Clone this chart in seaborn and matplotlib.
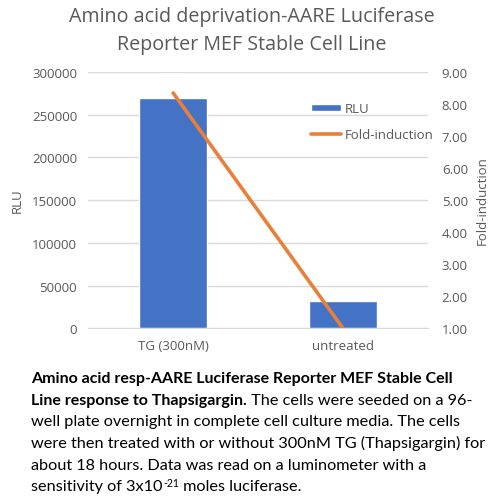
import numpy as np
import pandas as pd
import seaborn as sns
import matplotlib.pyplot as plt
from matplotlib.ticker import FormatStrFormatter

# =========================================
# DATA
# =========================================

categories = ['TG (300nM)', 'untreated']
rlu = [269500, 32000]
fold_induction = [8.34, 1.00]

y_left_ticks = [0, 50000, 100000, 150000, 200000, 250000, 300000]
y_right_ticks = [1, 2, 3, 4, 5, 6, 7, 8, 9]

title = "Amino acid deprivation-AARE Luciferase\nReporter MEF Stable Cell Line"

df = pd.DataFrame({'Condition': categories, 'RLU': rlu,
                   'Fold': fold_induction,
                   'pos': range(len(categories))})

# =========================================
# STYLE
# =========================================

sns.set_style('white')
plt.rcParams['font.family'] = ['Open Sans', 'DejaVu Sans']
grey = '#595959'
blue = '#4472c4'
orange = '#e8803a'

fig = plt.figure(figsize=(5.04, 5.02), dpi=100)
ax = fig.add_axes([0.175, 0.344, 0.674, 0.511])

# =========================================
# BARS (RLU)
# =========================================

sns.barplot(data=df, x='Condition', y='RLU', color=blue, width=0.4,
            saturation=1, ax=ax, label='RLU', zorder=2)

ax.set_ylim(0, 300000)
ax.set_xlim(-0.5, 1.5)
ax.set_yticks(y_left_ticks)
ax.yaxis.grid(True, color='#d9d9d9', linewidth=1, zorder=0)
ax.set_axisbelow(True)
ax.set_xlabel('')
ax.set_ylabel('RLU', color=grey, fontsize=9.5, labelpad=6)
ax.tick_params(axis='both', colors=grey, labelsize=9.5, length=0, pad=8)
for s in ax.spines.values():
    s.set_visible(False)
ax.spines['bottom'].set_visible(True)
ax.spines['bottom'].set_color('#d9d9d9')

# =========================================
# LINE (FOLD-INDUCTION)
# =========================================

ax2 = ax.twinx()
sns.lineplot(data=df, x='pos', y='Fold', color=orange, linewidth=2.6,
             ax=ax2, label='Fold-induction')
ax2.set_ylim(1, 9)
ax2.set_xlim(-0.5, 1.5)
ax2.set_yticks(y_right_ticks)
ax2.yaxis.set_major_formatter(FormatStrFormatter('%.2f'))
ax2.set_ylabel('Fold-induction', color=grey, fontsize=9.5, labelpad=6)
ax2.tick_params(axis='y', colors=grey, labelsize=9.5, length=0, pad=10)
for s in ax2.spines.values():
    s.set_visible(False)
ax2.grid(False)

# legend
h1, l1 = ax.get_legend_handles_labels()
h2, l2 = ax2.get_legend_handles_labels()
if ax.get_legend():
    ax.get_legend().remove()
leg = ax2.legend(h1 + h2, l1 + l2, loc='upper right',
                 bbox_to_anchor=(1.052, 0.928), frameon=False,
                 fontsize=9.5, labelcolor=grey, handlelength=2.3,
                 handleheight=0.5, handletextpad=0.3, labelspacing=1.0)

# =========================================
# TITLE
# =========================================

fig.text(0.5, 1 - 31 / 502, title, ha='center', va='center',
         fontsize=14.2, color=grey, linespacing=1.5)

# =========================================
# CAPTION
# =========================================

cap_font = ['Lato', 'DejaVu Sans']
x0 = 31 / 504
line_h = 21.7 / 502
y0 = 1 - 383 / 502

bold_lines = ["Amino acid resp-AARE Luciferase Reporter MEF Stable Cell",
              "Line response to Thapsigargin."]
normal_lines = ["well plate overnight in complete cell culture media. The cells",
                "were then treated with or without 300nM TG (Thapsigargin) for",
                "about 18 hours. Data was read on a luminometer with a"]

# fit font sizes to the widths of the caption lines in the reference
renderer = fig.canvas.get_renderer()
probe = fig.text(0, 0, normal_lines[1], fontsize=10, family=cap_font)
w = probe.get_window_extent(renderer).width
probe.remove()
normal_size = 10 * 453 / w
probe = fig.text(0, 0, bold_lines[0], fontsize=10, family=cap_font,
                 fontweight='bold')
w = probe.get_window_extent(renderer).width
probe.remove()
bold_size = 10 * 425 / w

fig.text(x0, y0, bold_lines[0], fontsize=bold_size, fontweight='bold',
         family=cap_font, color='black', va='baseline')
t = fig.text(x0, y0 - line_h, bold_lines[1], fontsize=bold_size,
             fontweight='bold', family=cap_font, color='black',
             va='baseline')
ax.annotate(" The cells were seeded on a 96-", xy=(1, 0), xycoords=t,
            xytext=(0, 0), textcoords='offset points', va='bottom',
            fontsize=normal_size, family=cap_font, color='black',
            annotation_clip=False)
for i, line in enumerate(normal_lines):
    fig.text(x0, y0 - (i + 2) * line_h, line, fontsize=normal_size,
             family=cap_font, color='black', va='baseline')

t2 = fig.text(x0, y0 - 5 * line_h, "sensitivity of 3x10",
              fontsize=normal_size, family=cap_font, color='black',
              va='baseline')
t3 = ax.annotate("-21", xy=(1, 0), xycoords=t2, xytext=(0.5, 4),
                 textcoords='offset points', fontsize=normal_size * 0.65,
                 family=cap_font, color='black', va='bottom',
                 annotation_clip=False)
ax.annotate(" moles luciferase.", xy=(1, 0), xycoords=t3,
            xytext=(0, -4), textcoords='offset points',
            fontsize=normal_size, family=cap_font, color='black',
            va='bottom', annotation_clip=False)

plt.savefig('out.png', dpi=100)
